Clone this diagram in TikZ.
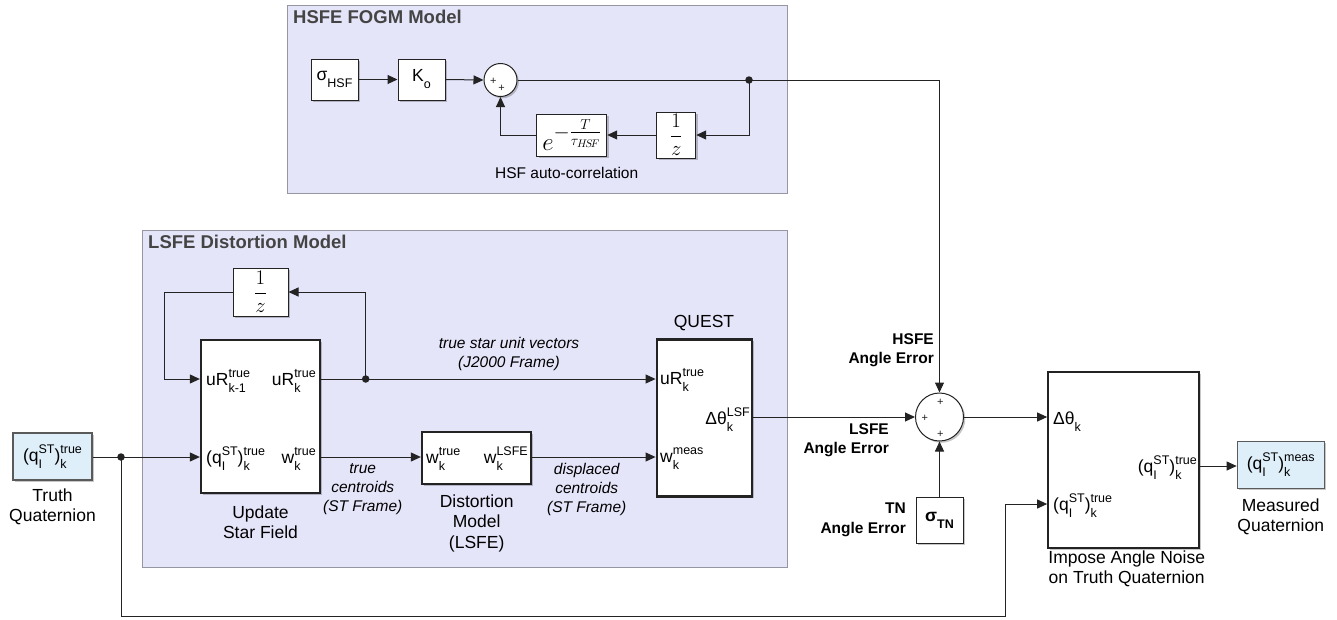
\documentclass[tikz,border=0pt]{standalone}
\usepackage{amsmath}
\usepackage{fontspec}
\setmainfont{Liberation Sans}
\usetikzlibrary{arrows.meta,shadows}
\definecolor{grpfill}{RGB}{229,229,250}
\definecolor{grpdraw}{RGB}{150,150,162}
\definecolor{portfill}{RGB}{222,239,250}
\definecolor{ln}{RGB}{35,35,35}
\definecolor{ttl}{RGB}{68,68,68}
\newcommand\SU[3]{#1\begingroup\fontsize{12.5}{12.5}\selectfont
 \setbox0\hbox{#2}\setbox2\hbox{#3}%
 \dimen0=\wd0 \ifdim\wd2>\dimen0 \dimen0=\wd2\fi
 \hbox to\dimen0{\raise 8pt\box0\hss}\kern-\dimen0\hbox to\dimen0{\lower 7pt\box2\hss}\endgroup}
\newcommand\qST[1]{(\SU{q}{ST}{I})\SU{}{#1}{k}}
\tikzset{
 grp/.style={draw=grpdraw, fill=grpfill, line width=1.3pt, inner sep=0pt, anchor=north west},
 blk/.style={draw=ln, fill=white, line width=1pt, inner sep=0pt,
   drop shadow={shadow xshift=1.8pt, shadow yshift=-1.8pt, opacity=0.22, fill=black}},
 bigblk/.style={blk, line width=2.3pt},
 portblk/.style={blk, draw=ln!75, fill=portfill, line width=1.1pt},
 sumblk/.style={blk, circle},
 wire/.style={draw=ln, line width=1pt},
 arr/.style={wire, -{Triangle[length=10pt,width=9pt]}},
 jdot/.style={circle, fill=ln, inner sep=0pt, minimum size=7.5pt},
 lbl/.style={font=\fontsize{17.5}{20.5}\selectfont, inner sep=0pt, align=center},
 plbl/.style={font=\fontsize{17.5}{20.5}\selectfont, inner sep=0pt},
 ital/.style={font=\fontsize{15.5}{19}\selectfont\itshape, inner sep=0pt, align=center},
 bl/.style={font=\fontsize{15.5}{19.5}\selectfont\bfseries, inner sep=0pt, align=right, anchor=east},
 ttlstyle/.style={font=\fontsize{18.5}{22}\selectfont\bfseries, text=ttl, inner sep=0pt, anchor=west},
 plus/.style={font=\fontsize{11}{11}\selectfont, inner sep=0pt, text=ln},
}
\begin{document}
\begin{tikzpicture}[x=1pt,y=-1pt]
\useasboundingbox (0,0) rectangle (1337,619);
\fill[white] (0,0) rectangle (1337,619);

% groups
\node[grp, minimum width=500, minimum height=188] (hsfe) at (287,5) {};
\node[grp, minimum width=645, minimum height=337] (lsfe) at (142,230) {};
\node[ttlstyle] (hsfet) at (293,17) {HSFE FOGM Model};
\node[ttlstyle] (lsfet) at (148,242) {LSFE Distortion Model};

% HSFE blocks
\node[blk, minimum width=47, minimum height=41, plbl] (sig) at (334.5,79.5) {\SU{σ}{}{HSF}};
\node[blk, minimum width=47, minimum height=41, plbl] (ko) at (421.5,79.5) {\SU{K}{}{o}};
\node[sumblk, minimum size=33] (sum1) at (500.5,80) {};
\node[plus] (p1a) at (493.3,81) {+};
\node[plus] (p1b) at (501.7,88.3) {+};
\node[blk, minimum width=70, minimum height=42] (exp) at (571.7,135) {\raisebox{-6pt}{\fontsize{36}{36}\selectfont$e$}\raisebox{6pt}{\fontsize{21}{21}\selectfont$-\frac{T}{\tau_{H\!S\!F}}$}};
\node[blk, minimum width=39, minimum height=46] (dz1) at (676.2,135) {\fontsize{20}{20}\selectfont$\displaystyle\frac{1}{z}$};
\node[lbl, font=\fontsize{15.5}{19}\selectfont] (hsfl) at (566.7,172.7) {HSF auto-correlation};

% LSFE blocks
\node[blk, minimum width=55, minimum height=48] (dz2) at (260.5,292) {\fontsize{20}{20}\selectfont$\displaystyle\frac{1}{z}$};
\node[bigblk, minimum width=119, minimum height=153] (upd) at (260.5,416.5) {};
\node[bigblk, minimum width=109, minimum height=52] (dist) at (476.5,458) {};
\node[bigblk, minimum width=95, minimum height=157] (quest) at (704.2,418) {};
\node[lbl] (questl) at (704,323) {QUEST};

% right side blocks
\node[sumblk, minimum size=48] (sum2) at (939.5,417) {};
\node[plus] (p2a) at (940.3,402.7) {+};
\node[plus] (p2b) at (924.7,418.7) {+};
\node[plus] (p2c) at (940.3,434) {+};
\node[blk, minimum width=47, minimum height=46, plbl, font=\fontsize{17.5}{20.5}\selectfont\bfseries] (sigtn) at (939.5,520) {\SU{σ}{}{\bfseries TN}};
\node[bigblk, minimum width=151, minimum height=176] (imp) at (1123.8,460) {};
\node[portblk, minimum width=87, minimum height=47, plbl] (meas) at (1280.7,464.7) {\qST{meas}};
\node[portblk, minimum width=79, minimum height=47, plbl] (truth) at (52.5,456.5) {\qST{true}};

% junctions / bends
\coordinate (j1) at (749,80);
\coordinate (j2) at (365.7,379);
\coordinate (j3) at (121,457);
\coordinate (c1) at (164,292);
\coordinate (c2) at (121,616);
\coordinate (c3) at (1005,616);
\coordinate (c4) at (1005,504);
\coordinate (c5) at (1199,466);

% wires
\draw[arr] (sig) -- (ko);
\draw[arr] (ko.east) -- (sum1.west);
\draw[wire] (sum1.east) -- (j1);
\draw[arr] (j1) -| (sum2.north);
\draw[arr] (j1) |- (dz1.east);
\draw[arr] (dz1.west) -- (exp.east);
\draw[arr] (exp.west) -| (sum1.south);
\draw[wire] (upd.east |- j2) -- (j2);
\draw[arr] (j2) -- (quest.west |- j2);
\draw[arr] (j2) |- (dz2.east);
\draw[arr] (dz2.west) -- (c1) |- (upd.west |- j2);
\draw[wire] (truth.east |- j3) -- (j3);
\draw[arr] (j3) -- (upd.west |- j3);
\draw[arr] (upd.east |- j3) -- (dist.west |- j3);
\draw[arr] (dist.east |- j3) -- (quest.west |- j3);
\draw[arr] (quest.east |- sum2) -- (sum2.west);
\draw[arr] (sigtn.north) -- (sum2.south);
\draw[arr] (sum2.east) -- (imp.west |- sum2);
\draw[arr] (j3) -- (c2) -- (c3) -- (c4) -- (imp.west |- c4);
\draw[arr] (imp.east |- c5) -- (meas.west |- c5);

\node[jdot] (d1) at (j1) {};
\node[jdot] (d2) at (j2) {};
\node[jdot] (d3) at (j3) {};

% port labels
\node[plbl, anchor=base west] (l1) at (206,385.5) {\SU{uR}{true}{k-1}};
\node[plbl, anchor=base east] (l2) at (316,385.5) {\SU{uR}{true}{k}};
\node[plbl, anchor=base west] (l3) at (206,463.5) {\qST{true}};
\node[plbl, anchor=base east] (l4) at (316,463.5) {\SU{w}{true}{k}};
\node[plbl, anchor=base west] (l5) at (426,463.5) {\SU{w}{true}{k}};
\node[plbl, anchor=base east] (l6) at (528,463.5) {\SU{w}{LSFE}{k}};
\node[plbl, anchor=base west] (l7) at (660,384.5) {\SU{uR}{true}{k}};
\node[plbl, anchor=base east] (l8) at (750,424) {\SU{Δθ}{LSF}{k}};
\node[plbl, anchor=base west] (l9) at (660,462) {\SU{w}{meas}{k}};
\node[plbl, anchor=base west] (l10) at (1053,424.5) {\SU{Δθ}{}{k}};
\node[plbl, anchor=base east] (l11) at (1197,472.5) {\qST{true}};
\node[plbl, anchor=base west] (l12) at (1053,510.5) {\qST{true}};

% block captions
\node[lbl] (truthl) at (52.5,507) {Truth\\Quaternion};
\node[lbl] (updl) at (260.5,522) {Update\\Star Field};
\node[lbl] (distl) at (476.7,523) {Distortion\\Model\\(LSFE)};
\node[lbl] (measl) at (1280.7,517) {Measured\\Quaternion};
\node[lbl] (impl) at (1126.7,569) {Impose Angle Noise\\on Truth Quaternion};

% signal labels
\node[ital] (s1) at (509,354) {true star unit vectors\\(J2000 Frame)};
\node[ital] (s2) at (362.7,489) {true\\centroids\\(ST Frame)};
\node[ital] (s3) at (586.7,489) {displaced\\centroids\\(ST Frame)};
\node[bl] (e1) at (934,350) {HSFE\\Angle Error};
\node[bl] (e2) at (889,440) {LSFE\\Angle Error};
\node[bl] (e3) at (906,520) {TN\\Angle Error};
\end{tikzpicture}
\end{document}
